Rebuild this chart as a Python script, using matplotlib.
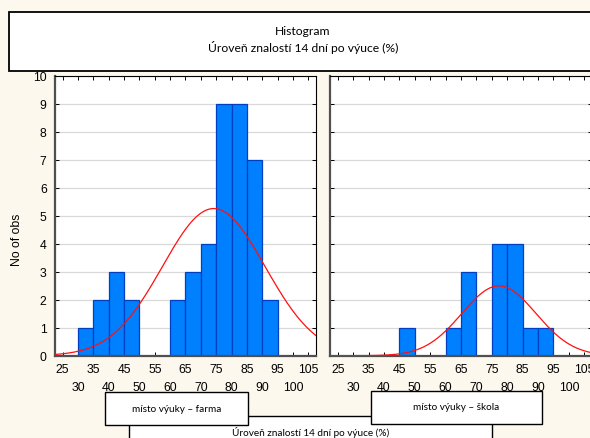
import numpy as np
import matplotlib
matplotlib.use("Agg")
import matplotlib.pyplot as plt
from matplotlib.patches import Rectangle

# histogram counts, bins of width 5 from 30 to 95
bin_edges = [30, 35, 40, 45, 50, 55, 60, 65, 70, 75, 80, 85, 90, 95]
farma_counts = [1, 2, 3, 2, 0, 0, 2, 3, 4, 9, 9, 7, 2]
skola_counts = [0, 0, 0, 1, 0, 0, 1, 3, 0, 4, 4, 1, 1]

# fitted normal curves (mean, sd)
farma_fit = (74.2, 16.7)
skola_fit = (77.3, 12.0)

panel_titles = ["místo výuky – farma", "místo výuky – škola"]
title_lines = "Histogram\nÚroveň znalostí 14 dní po výuce (%)"
xlabel = "Úroveň znalostí 14 dní po výuce (%)"
ylabel = "No of obs"

W, H = 590, 439
bg = "#FDF8EE"
bar_face = "#0080FF"
bar_edge = "#0040C0"

fig = plt.figure(figsize=(W / 100, H / 100), dpi=100, facecolor=bg)


def fx(px):
    return px / W


def fy(py):
    return 1 - py / H


def draw_panel(rect, counts, fit, show_y):
    ax = fig.add_axes(rect)
    ax.set_facecolor("white")
    ax.set_xlim(22.5, 107.5)
    ax.set_ylim(0, 10)
    ax.set_axisbelow(True)
    ax.yaxis.grid(True, color="#D9D9D9", lw=0.9)
    left = bin_edges[:-1]
    ax.bar(left, counts, width=5, align="edge", color=bar_face,
           edgecolor=bar_edge, linewidth=0.9, zorder=2)
    xs = np.linspace(22.5, 107.5, 300)
    n = sum(counts)
    mu, sd = fit
    ys = n * 5 / (sd * np.sqrt(2 * np.pi)) * np.exp(-0.5 * ((xs - mu) / sd) ** 2)
    ax.plot(xs, ys, color="#FF1010", lw=0.9, zorder=3, clip_on=True)

    ax.set_xticks(np.arange(25, 106, 10))
    ax.set_xticks(np.arange(30, 101, 10), minor=True)
    ax.set_xticklabels([str(v) for v in range(25, 106, 10)])
    ax.set_xticklabels([str(v) for v in range(30, 101, 10)], minor=True)
    ax.set_yticks(range(0, 11))
    ax.tick_params(axis="x", which="both", direction="in", length=3,
                   top=True, labelsize=8.8, width=0.7)
    ax.tick_params(axis="x", which="major", pad=5)
    ax.tick_params(axis="x", which="minor", pad=18)
    ax.tick_params(axis="y", direction="in", length=3, right=True,
                   labelsize=8.8, width=0.7, pad=6, labelleft=show_y)
    for s in ["left", "bottom"]:
        ax.spines[s].set_color("#505050")
        ax.spines[s].set_linewidth(1.6)
    for s in ["top", "right"]:
        ax.spines[s].set_color("black")
        ax.spines[s].set_linewidth(0.8)
    for lab in ax.get_xticklabels(which="both") + ax.get_yticklabels():
        lab.set_family("Liberation Sans")
    return ax


ax1 = draw_panel([fx(55), fy(356.7), fx(261), 280 / H], farma_counts, farma_fit, True)
ax2 = draw_panel([fx(330), fy(356.7), fx(262), 280 / H], skola_counts, skola_fit, False)

fig.text(fx(17), fy(240), ylabel, rotation=90, ha="center", va="center",
         fontsize=8.8, family="Liberation Sans")

# title box
fig.patches.append(Rectangle((fx(8.5), fy(71.5)), fx(600), 59 / H, transform=fig.transFigure,
                             facecolor="white", edgecolor="black", lw=1.3, zorder=1))
fig.text(fx(303), fy(40), title_lines, ha="center", va="center", fontsize=8.7,
         family="Lato", linespacing=1.45)

# bottom label boxes
fig.patches.append(Rectangle((fx(129), fy(445)), fx(363), 28 / H, transform=fig.transFigure,
                             facecolor="white", edgecolor="black", lw=1.0, zorder=1))
fig.text(fx(311), fy(433), xlabel, ha="center", va="center", fontsize=7.2, family="Lato")

boxes = [(105, 393, 143, 33), (371, 391.5, 171, 33)]
for (bx, by, bw, bh), t in zip(boxes, panel_titles):
    fig.patches.append(Rectangle((fx(bx), fy(by + bh)), fx(bw), bh / H, transform=fig.transFigure,
                                 facecolor="white", edgecolor="black", lw=1.0, zorder=2))
    fig.text(fx(bx + bw / 2), fy(by + bh / 2), t, ha="center", va="center",
             fontsize=7.2, family="Lato", zorder=3)

fig.savefig("out.png", dpi=100, facecolor=bg)
